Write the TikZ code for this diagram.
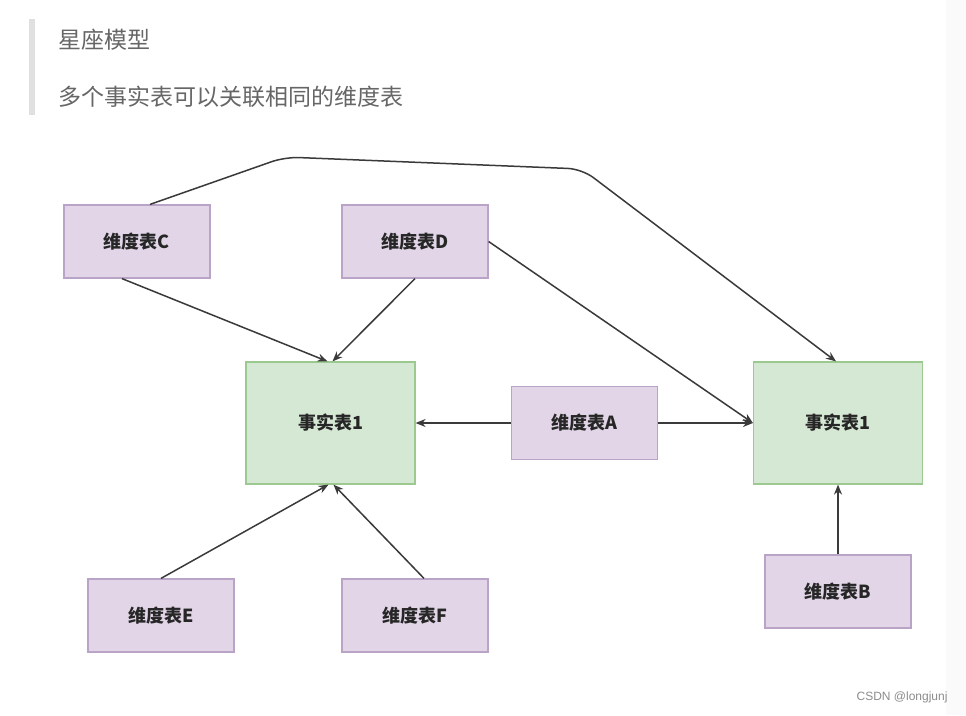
\documentclass[tikz,border=0pt]{standalone}
\usepackage{fontspec}
\setmainfont{Liberation Sans}
\newfontfamily\cjk{Noto Sans CJK SC}
\usetikzlibrary{arrows.meta}
\definecolor{dimfill}{HTML}{E1D5E7}
\definecolor{dimline}{HTML}{B9A3C7}
\definecolor{factfill}{HTML}{D5E8D4}
\definecolor{factline}{HTML}{9CC98F}
\definecolor{linkgray}{HTML}{3A3A3A}
\definecolor{headgray}{HTML}{666666}
\tikzset{
  dimbox/.style={draw=dimline,fill=dimfill,line width=1.2pt,minimum width=146pt,
    minimum height=73pt,font=\cjk\bfseries\fontsize{18}{20}\selectfont,text=black!85},
  factbox/.style={dimbox,draw=factline,fill=factfill,minimum width=169pt,minimum height=122pt},
  link/.style={draw=linkgray,line width=1.5pt,-{Stealth[length=10pt,width=8pt]}},
  headtext/.style={anchor=west,text=headgray,font=\cjk\fontsize{23}{26}\selectfont}
}
\begin{document}
\begin{tikzpicture}[x=1pt,y=-1pt]
        \fill [white] (0,0) rectangle (966,715);
        \fill [black!2] (946,0) rectangle (966,715);
        \fill [black!12] (29,19) rectangle (35,115);
        \node [headtext] (title) at (55,40) {星座模型};
        \node [headtext] (subtitle) at (55,97) {多个事实表可以关联相同的维度表};
        % tables
        \node [dimbox] (dimC) at (137,241.5) {维度表C};
        \node [dimbox] (dimD) at (415,241.5) {维度表D};
        \node [factbox] (factL) at (330.5,423) {事实表1};
        \node [dimbox] (dimA) at (584.5,423) {维度表A};
        \node [factbox] (factR) at (838,423) {事实表1};
        \node [dimbox] (dimB) at (838,591.5) {维度表B};
        \node [dimbox] (dimE) at (161,615.5) {维度表E};
        \node [dimbox] (dimF) at (415,615.5) {维度表F};
        \node [anchor=east,text=black!45,font=\fontsize{12}{14}\selectfont] (mark) at (951,697) {CSDN @longjunj};
        % links
        \draw [link] ([xshift=-15pt]dimC.south) -- ([xshift=-3pt]factL.north);
        \draw [link] (dimD.south) -- ([xshift=2pt]factL.north);
        \draw [link] (dimA.west) -- (factL.east);
        \draw [link] (dimA.east) -- (factR.west);
        \draw [link] (dimD.east) -- (factR.west);
        \draw [link,rounded corners=14pt] ([xshift=13pt]dimC.north) -- (285,157) -- (582,169) -- ([xshift=-2pt]factR.north);
        \draw [link] (dimE.north) -- ([xshift=-2pt]factL.south);
        \draw [link] ([xshift=9pt]dimF.north) -- ([xshift=3pt]factL.south);
        \draw [link] (dimB.north) -- (factR.south);

        \end{tikzpicture}
\end{document}
